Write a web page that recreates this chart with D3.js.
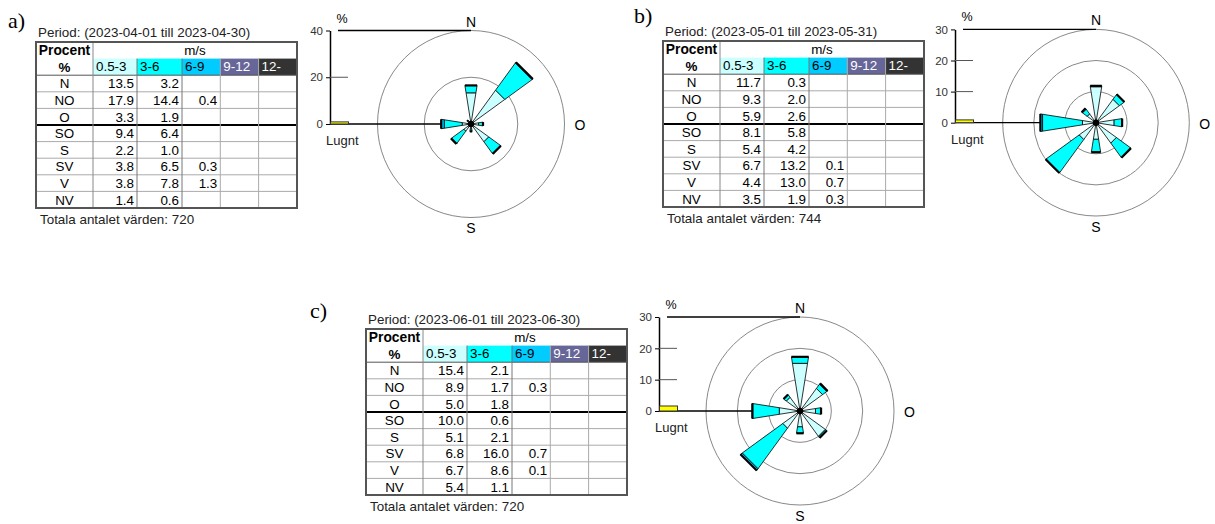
<!DOCTYPE html>
<html>
<head>
<meta charset="utf-8">
<script src="https://cdn.jsdelivr.net/npm/d3@7"></script>
<style>
  body { margin: 0; background: #fff; }
  svg { display: block; font-family: "Liberation Sans", Arial, sans-serif; }
</style>
</head>
<body>
<svg width="1215" height="524"></svg>
<script>
// vindrosor april - juni 2023
const directions = ["N", "NO", "O", "SO", "S", "SV", "V", "NV"];
const speedClasses = ["0.5-3", "3-6", "6-9", "9-12", "12-"];
const classColors = ["#ccffff", "#00ffff", "#00ccff", "#666699", "#333333"];

// procent per riktning och vindklass (tom cell = null)
const aprilValues = [
  [13.5, 3.2, null, null, null],
  [17.9, 14.4, 0.4, null, null],
  [3.3, 1.9, null, null, null],
  [9.4, 6.4, null, null, null],
  [2.2, 1.0, null, null, null],
  [3.8, 6.5, 0.3, null, null],
  [3.8, 7.8, 1.3, null, null],
  [1.4, 0.6, null, null, null]
];
const mayValues = [
  [11.7, 0.3, null, null, null],
  [9.3, 2.0, null, null, null],
  [5.9, 2.6, null, null, null],
  [8.1, 5.8, null, null, null],
  [5.4, 4.2, null, null, null],
  [6.7, 13.2, 0.1, null, null],
  [4.4, 13.0, 0.7, null, null],
  [3.5, 1.9, 0.3, null, null]
];
const juneValues = [
  [15.4, 2.1, null, null, null],
  [8.9, 1.7, 0.3, null, null],
  [5.0, 1.8, null, null, null],
  [10.0, 0.6, null, null, null],
  [5.1, 2.1, null, null, null],
  [6.8, 16.0, 0.7, null, null],
  [6.7, 8.6, 0.1, null, null],
  [5.4, 1.1, null, null, null]
];
const calmValues = [0.9, 0.9, 1.6];
const periods = [
  "Period: (2023-04-01 till 2023-04-30)",
  "Period: (2023-05-01 till 2023-05-31)",
  "Period: (2023-06-01 till 2023-06-30)"
];
const totals = [720, 744, 720];
const panelLabels = ["a)", "b)", "c)"];
const aprilTicks = [0, 20, 40];
const mayTicks = [0, 10, 20, 30];
const juneTicks = [0, 10, 20, 30];

const svg = d3.select("svg");

const colW = [57, 44, 45, 38.3, 38.3, 38.4];
const rowH = 16.6;
const fs = 13.4;

function drawTable(g, values, period, total) {
  const colX = [0];
  colW.forEach((w) => colX.push(colX[colX.length - 1] + w));
  const W = colX[colX.length - 1];
  const H = rowH * 10;

  g.append("text").attr("x", 2).attr("y", -5)
    .attr("font-size", fs).attr("fill", "#222").text(period);

  // färgade rubrikceller
  g.selectAll("rect.cls").data(speedClasses).enter().append("rect")
    .attr("x", (d, i) => colX[i + 1])
    .attr("y", rowH)
    .attr("width", (d, i) => colW[i + 1])
    .attr("height", rowH)
    .attr("fill", (d, i) => classColors[i]);
  g.selectAll("text.cls").data(speedClasses).enter().append("text")
    .attr("x", (d, i) => colX[i + 1] + 3)
    .attr("y", rowH * 2 - 4)
    .attr("font-size", fs)
    .attr("fill", (d, i) => (i >= 3 ? "#fff" : "#000"))
    .text((d) => d);

  g.append("text").attr("x", colW[0] / 2).attr("y", rowH - 3.5)
    .attr("text-anchor", "middle").attr("font-size", fs + 0.4).attr("font-weight", "bold").text("Procent");
  g.append("text").attr("x", colW[0] / 2).attr("y", rowH * 2 - 3.5)
    .attr("text-anchor", "middle").attr("font-size", fs).attr("font-weight", "bold").text("%");
  g.append("text").attr("x", (colX[1] + W) / 2).attr("y", rowH - 3.5)
    .attr("text-anchor", "middle").attr("font-size", fs).text("m/s");

  // rader
  for (let r = 0; r < 8; r++) {
    const y = rowH * (r + 2);
    g.append("line").attr("x1", 0).attr("x2", W).attr("y1", y).attr("y2", y)
      .attr("stroke", r === 0 ? "#555" : r === 3 ? "#000" : "#aaa")
      .attr("stroke-width", r === 3 ? 2 : 1);
    g.append("text").attr("x", colW[0] / 2).attr("y", y + rowH - 3.5)
      .attr("text-anchor", "middle").attr("font-size", fs).text(directions[r]);
    values[r].forEach((v, c) => {
      if (v == null) return;
      g.append("text").attr("x", colX[c + 2] - 3).attr("y", y + rowH - 3.5)
        .attr("text-anchor", "end").attr("font-size", fs).text(v.toFixed(1));
    });
  }
  // kolumnlinjer
  g.append("line").attr("x1", colX[1]).attr("x2", colX[1]).attr("y1", 0).attr("y2", H)
    .attr("stroke", "#888");
  for (let c = 2; c < colX.length - 1; c++) {
    g.append("line").attr("x1", colX[c]).attr("x2", colX[c]).attr("y1", rowH).attr("y2", H)
      .attr("stroke", c < 4 ? "#777" : "#aaa");
  }
  g.append("rect").attr("x", 0).attr("y", 0).attr("width", W).attr("height", H)
    .attr("fill", "none").attr("stroke", "#555").attr("stroke-width", 2);

  g.append("text").attr("x", 4).attr("y", H + 16)
    .attr("font-size", fs).attr("fill", "#222").text("Totala antalet värden: " + total);
}

function drawRose(g, values, calm, ticks, axisX, cx, cy, R) {
  const maxV = ticks[ticks.length - 1];
  const rScale = d3.scaleLinear().domain([0, maxV]).range([0, R]);
  const yScale = d3.scaleLinear().domain([0, maxV]).range([cy, cy - R]);

  // cirklar
  g.selectAll("circle.ring").data(ticks.slice(1)).enter().append("circle")
    .attr("cx", cx).attr("cy", cy).attr("r", (d) => rScale(d))
    .attr("fill", "none").attr("stroke", "#888").attr("stroke-width", 1);

  // skalaxel
  const axis = d3.axisLeft(yScale).tickValues(ticks).tickSize(4).tickSizeOuter(0);
  const ag = g.append("g").attr("transform", "translate(" + axisX + ",0)").call(axis);
  ag.select(".domain").attr("stroke", "#000").attr("stroke-width", 1.5);
  ag.selectAll("text").attr("font-size", 11.5).attr("fill", "#333")
    .attr("font-family", "Liberation Sans, Arial, sans-serif");
  g.selectAll("line.tk").data(ticks.slice(1, -1)).enter().append("line")
    .attr("x1", axisX).attr("x2", axisX + 18)
    .attr("y1", (d) => yScale(d)).attr("y2", (d) => yScale(d))
    .attr("stroke", "#555");
  g.append("line").attr("x1", axisX + 8).attr("x2", cx)
    .attr("y1", yScale(maxV)).attr("y2", yScale(maxV)).attr("stroke", "#000").attr("stroke-width", 1.3);
  g.append("line").attr("x1", axisX).attr("x2", cx)
    .attr("y1", yScale(0)).attr("y2", yScale(0)).attr("stroke", "#000").attr("stroke-width", 1.3);

  // lugnt
  g.append("rect").attr("x", axisX + 0.5).attr("y", yScale(calm))
    .attr("width", 18).attr("height", yScale(0) - yScale(calm))
    .attr("fill", "#ffff00").attr("stroke", "#333").attr("stroke-width", 1);

  // kronblad
  const half = (9 * Math.PI) / 180;
  const pt = (r, a) => [cx + r * Math.sin(a), cy - r * Math.cos(a)];
  values.forEach((row, i) => {
    const th = (i * Math.PI) / 4;
    let cum = 0;
    row.forEach((v, k) => {
      if (v == null) return;
      const r0 = rScale(cum);
      const r1 = rScale(cum + v);
      cum += v;
      const p = [pt(r0, th - half), pt(r1, th - half), pt(r1, th + half), pt(r0, th + half)];
      g.append("path").attr("d", "M" + p.join("L") + "Z")
        .attr("fill", classColors[k]).attr("stroke", "#000").attr("stroke-width", 0.8)
        .attr("stroke-linejoin", "round");
    });
    const e0 = pt(rScale(cum), th - half);
    const e1 = pt(rScale(cum), th + half);
    g.append("line").attr("x1", e0[0]).attr("y1", e0[1]).attr("x2", e1[0]).attr("y2", e1[1])
      .attr("stroke", "#000").attr("stroke-width", 2.2);
  });
  g.append("circle").attr("cx", cx).attr("cy", cy).attr("r", 3.2).attr("fill", "#000");

  g.append("text").attr("x", cx).attr("y", cy - R - 4).attr("text-anchor", "middle")
    .attr("font-size", 14).text("N");
  g.append("text").attr("x", cx).attr("y", cy + R + 15.5).attr("text-anchor", "middle")
    .attr("font-size", 14).text("S");
  g.append("text").attr("x", cx + R + 10).attr("y", cy + 6)
    .attr("font-size", 14).text("O");
  g.append("text").attr("x", axisX + 12).attr("y", cy - R - 8).attr("text-anchor", "middle")
    .attr("font-size", 12.5).text("%");
  g.append("text").attr("x", axisX - 4).attr("y", cy + 21)
    .attr("font-size", 13).attr("fill", "#222").text("Lugnt");
}

const panels = [
  { values: aprilValues, ticks: aprilTicks, tx: 36, ty: 42, lx: 8, ly: 28, axisX: 330, cx: 471, cy: 124, R: 93.5 },
  { values: mayValues, ticks: mayTicks, tx: 663, ty: 41, lx: 634, ly: 23, axisX: 955, cx: 1096, cy: 122.7, R: 93.3 },
  { values: juneValues, ticks: juneTicks, tx: 366, ty: 329, lx: 310, ly: 318, axisX: 659, cx: 800, cy: 411, R: 94 }
];

panels.forEach((p, i) => {
  svg.append("text").attr("x", p.lx).attr("y", p.ly)
    .attr("font-family", "Liberation Serif, DejaVu Serif, serif").attr("font-size", 22)
    .text(panelLabels[i]);
  drawTable(svg.append("g").attr("transform", "translate(" + p.tx + "," + p.ty + ")"),
    p.values, periods[i], totals[i]);
  drawRose(svg.append("g"), p.values, calmValues[i], p.ticks, p.axisX, p.cx, p.cy, p.R);
});
</script>
</body>
</html>
